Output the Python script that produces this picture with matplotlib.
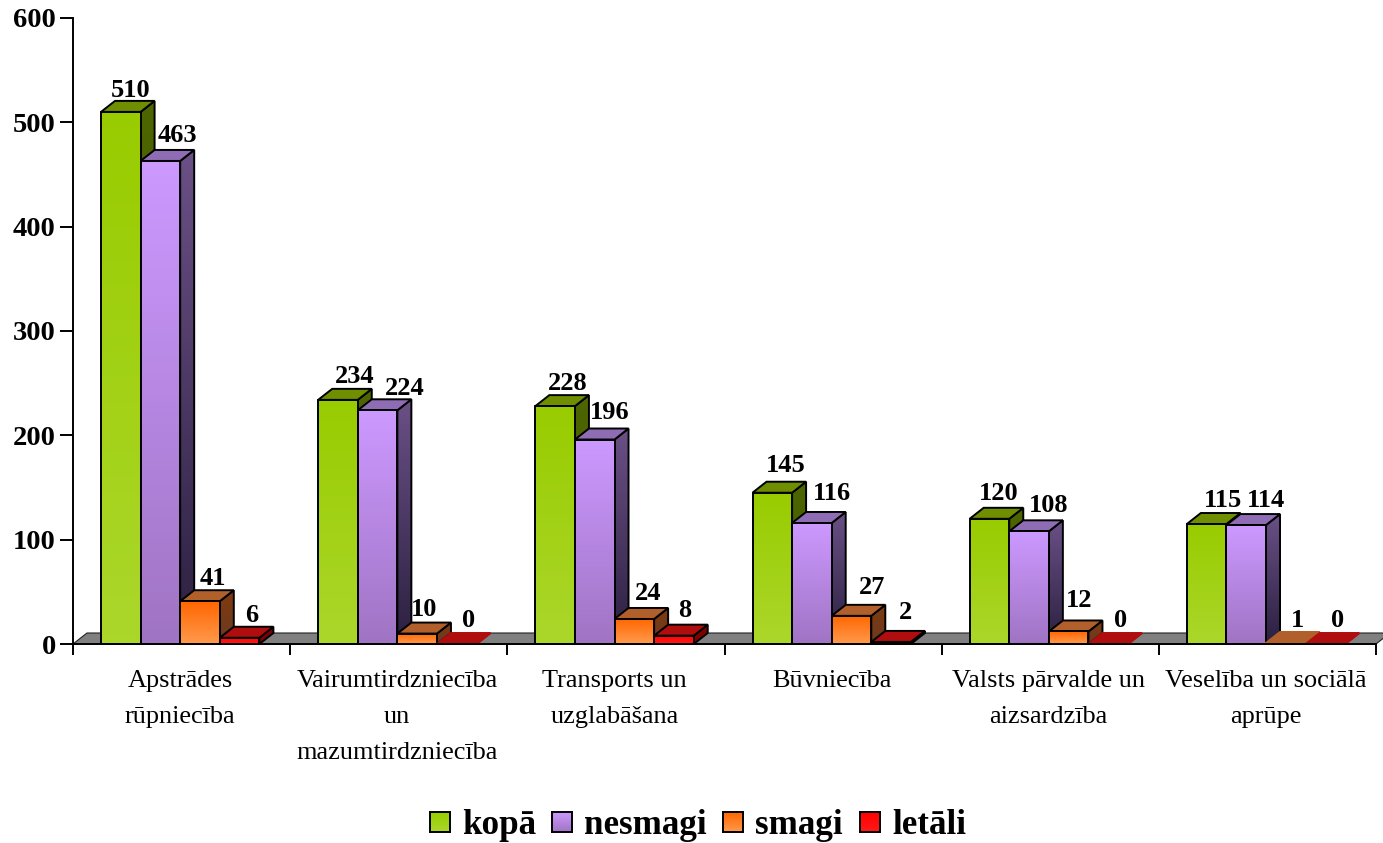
import numpy as np
import matplotlib
matplotlib.use('Agg')
import matplotlib.pyplot as plt
from matplotlib.patches import Polygon
from matplotlib.colors import to_rgb

plt.rcParams['font.family'] = ['Liberation Serif', 'DejaVu Serif']

categories = ['Apstrādes\nrūpniecība', 'Vairumtirdzniecība\nun\nmazumtirdzniecība',
              'Transports un\nuzglabāšana', 'Būvniecība',
              'Valsts pārvalde un\naizsardzība', 'Veselība un sociālā\naprūpe']
series_names = ['kopā', 'nesmagi', 'smagi', 'letāli']
kopa = [510, 234, 228, 145, 120, 115]
nesmagi = [463, 224, 196, 116, 108, 114]
smagi = [41, 10, 24, 27, 12, 1]
letali = [6, 0, 8, 2, 0, 0]
series = [kopa, nesmagi, smagi, letali]
y_ticks = [0, 100, 200, 300, 400, 500, 600]

# front top, front bottom, top face, side top, side bottom
colors = [('#99CC00', '#ABD72B', '#6F8F00', '#4D6600', '#3F5400'),
          ('#CC99FF', '#A074C4', '#8F6DB5', '#6A5086', '#2B2040'),
          ('#FF6600', '#FF9A4D', '#B2602B', '#7F3A10', '#6B3A20'),
          ('#FF0000', '#FF1A1A', '#B00E0E', '#800000', '#800000')]

# hand placed data labels (pixels from bar centre / bar top), one row per series
label_dx = [[10, 17, 13, 13, 9, 16], [17, 27, 15, 20, 20, 20],
            [13, 7, 14, 21, 10, 12], [12, 12, 11, 14, 12, 12]]
label_dy = [[15, 17, 16, 21, 19, 17], [19, 15, 21, 23, 19, 18],
            [16, 18, 19, 22, 24, 16], [16, 17, 19, 23, 17, 17]]

W, H = 1383, 843
X0, X1, Y0, Y1 = 73, 1376, 644, 18
cat_px = (X1 - X0) / 6
val_px = (Y0 - Y1) / 600
bar_w = 39.6 / cat_px
lead = 28 / cat_px
dx = 14 / cat_px
dy = 11 / val_px


def grad(c1, c2):
    return np.linspace(to_rgb(c1), to_rgb(c2), 64).reshape(64, 1, 3)


fig = plt.figure(figsize=(W / 100, H / 100), dpi=100)
ax = fig.add_axes([X0 / W, 1 - Y0 / H, (X1 - X0) / W, (Y0 - Y1) / H])

# floor
ax.add_patch(Polygon([(0, 0), (dx, dy), (6 + dx, dy), (6, 0)], closed=True, fc='#808080',
                     ec='#222222', lw=0.8, zorder=1, clip_on=False))

z = 2
for i in range(6):
    for j, vals in enumerate(series):
        v = vals[i]
        c = colors[j]
        left = i + lead + j * bar_w
        right = left + bar_w
        edge = 'black' if v > 1 else c[2]
        # side face
        side = Polygon([(right, 0), (right + dx, dy), (right + dx, v + dy), (right, v)], closed=True,
                       fc='none', ec='none', zorder=z)
        ax.add_patch(side)
        im = ax.imshow(grad(c[3], c[4]), extent=(right, right + dx, 0, v + dy), aspect='auto', zorder=z)
        im.set_clip_path(side)
        ax.add_patch(Polygon(side.get_xy(), closed=True, fc='none', ec=edge, lw=1.4, zorder=z, clip_on=False))
        # top face
        ax.add_patch(Polygon([(left, v), (left + dx, v + dy), (right + dx, v + dy), (right, v)], closed=True,
                             fc=c[2], ec=edge, lw=1.4, zorder=z, clip_on=False))
        # front face
        if v > 0:
            ax.imshow(grad(c[0], c[1]), extent=(left, right, 0, v), aspect='auto', zorder=z)
            ax.add_patch(Polygon([(left, 0), (left, v), (right, v), (right, 0)], closed=True, fc='none',
                                 ec=edge, lw=1.4, zorder=z, clip_on=False))
        z += 1

for i in range(6):
    for j, vals in enumerate(series):
        ax.annotate(str(vals[i]), (i + lead + (j + 0.5) * bar_w, vals[i]),
                    xytext=(label_dx[j][i], label_dy[j][i]), textcoords='offset pixels',
                    ha='center', va='baseline', fontsize=19, fontweight='bold', zorder=100,
                    annotation_clip=False)

ax.set_xlim(0, 6)
ax.set_ylim(0, 600)
ax.spines['top'].set_visible(False)
ax.spines['right'].set_visible(False)
for s in ['left', 'bottom']:
    ax.spines[s].set_linewidth(1.4)
    ax.spines[s].set_zorder(90)

ax.set_yticks(y_ticks)
ax.set_yticklabels([str(t) for t in y_ticks], fontsize=20.5, fontweight='bold')
ax.tick_params(axis='y', length=9.5, width=1.4, pad=3)
ax.set_xticks(range(7))
ax.set_xticklabels([])
ax.tick_params(axis='x', which='major', length=8, width=1.4)
ax.set_xticks(np.arange(6) + 0.493, minor=True)
ax.set_xticklabels(categories, minor=True, fontsize=18.9, linespacing=1.8, ha='center')
ax.tick_params(axis='x', which='minor', length=0, pad=19)

# legend
swatch_px = [430, 552, 723, 860]
text_px = [462, 584, 755, 892]
for name, c, sx, tx in zip(series_names, colors, swatch_px, text_px):
    sw = fig.add_axes([sx / W, 1 - 832 / H, 20 / W, 20 / H])
    sw.imshow(grad(c[0], c[1]), aspect='auto')
    sw.set_xticks([])
    sw.set_yticks([])
    for s in sw.spines.values():
        s.set_linewidth(1.4)
    fig.text(tx / W, 1 - 834 / H, name, fontsize=25.2, fontweight='bold', ha='left', va='baseline')

fig.savefig('out.png', dpi=100)
